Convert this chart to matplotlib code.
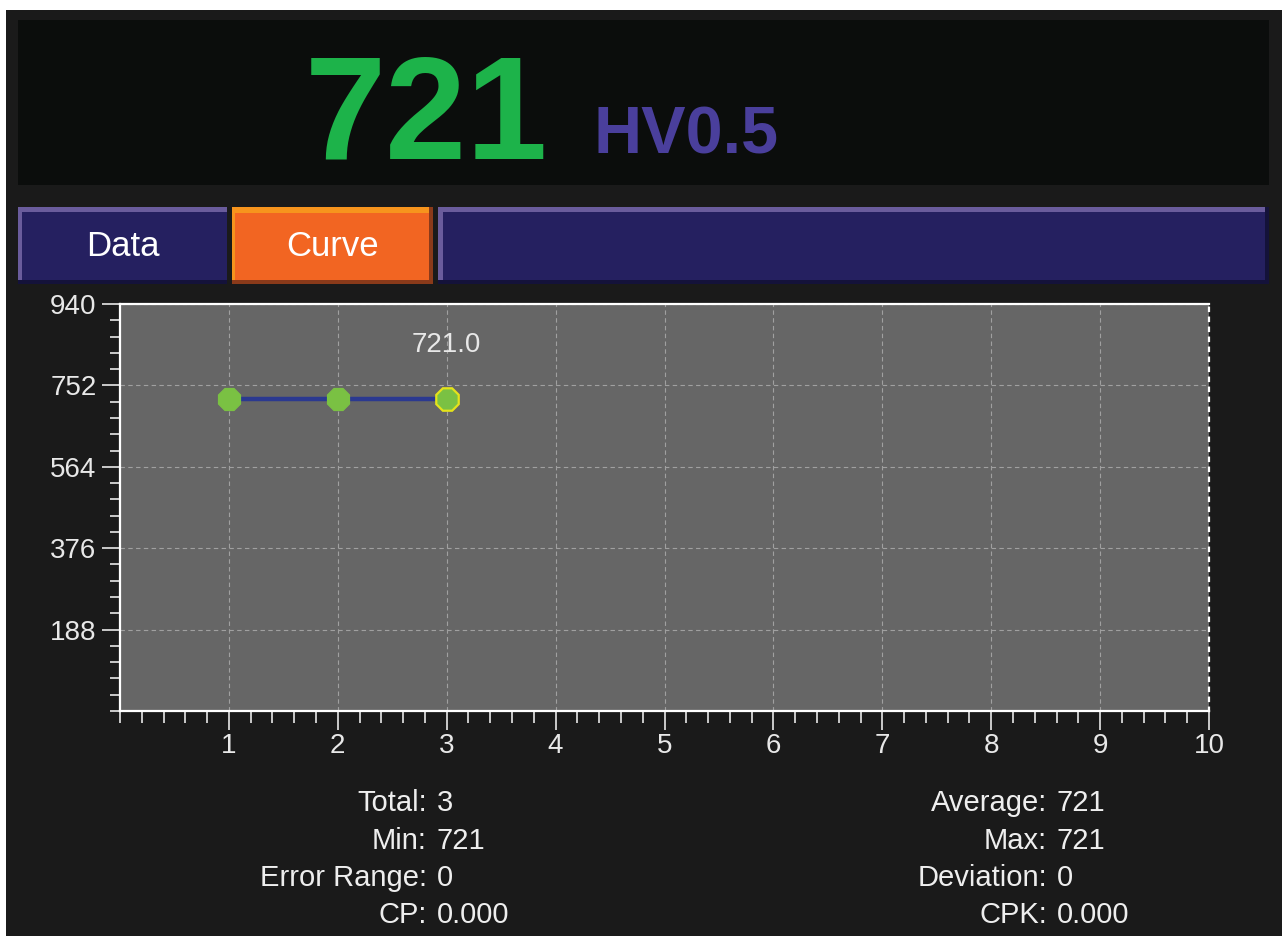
import matplotlib
matplotlib.use("Agg")
import matplotlib.pyplot as plt
from matplotlib.patches import Rectangle
from matplotlib import font_manager

# Messwerte (Härteprüfung)
reading = "721"
unit = "HV0.5"
tabs = ["Data", "Curve"]
x_vals = [1, 2, 3]
y_vals = [721, 721, 721]
last_label = "721.0"
y_ticks = [188, 376, 564, 752, 940]
x_ticks = [1, 2, 3, 4, 5, 6, 7, 8, 9, 10]
stats_left = [("Total:", "3"), ("Min:", "721"), ("Error Range:", "0"), ("CP:", "0.000")]
stats_right = [("Average:", "721"), ("Max:", "721"), ("Deviation:", "0"), ("CPK:", "0.000")]

W, H = 1282, 936
names = {f.name for f in font_manager.fontManager.ttflist}
narrow = "Liberation Sans Narrow" if "Liberation Sans Narrow" in names else "Liberation Sans"
plt.rcParams["font.family"] = ["Liberation Sans", "DejaVu Sans"]

fig = plt.figure(figsize=(W / 100, H / 100), dpi=100, facecolor="white")


def box(x0, y0, x1, y1, color):
    # Pixelkoordinaten, Ursprung oben links
    fig.add_artist(Rectangle((x0 / W, 1 - y1 / H), (x1 - x0) / W, (y1 - y0) / H,
                             transform=fig.transFigure, facecolor=color,
                             edgecolor="none", zorder=0))


def put(x, y, s, **kw):
    fig.text(x / W, 1 - y / H, s, **kw)


# Rahmen und Anzeige oben
box(6, 10, W, H, "#1a1a1a")
box(18, 20, 1269, 185, "#0b0d0c")
put(305, 158, reading, fontsize=110 if narrow != "Liberation Sans" else 105,
    family=narrow, weight="bold", color="#1db34a", va="baseline")
put(593, 153, unit, fontsize=48, weight="bold", color="#4a3f9c", va="baseline")

# Reiter
box(18, 207, 227, 284, "#14123a")
box(18, 207, 227, 280, "#252060")
box(18, 207, 227, 212, "#6a5c9c")
box(18, 207, 22, 280, "#6a5c9c")
box(232, 207, 433, 284, "#8a3a1a")
box(232, 207, 429, 280, "#f26522")
box(232, 207, 429, 213, "#f7941d")
box(232, 207, 235, 280, "#f7941d")
box(438, 207, 1269, 284, "#14123a")
box(438, 207, 1265, 280, "#252060")
box(438, 207, 1265, 212, "#6a5c9c")
box(438, 207, 443, 280, "#6a5c9c")
put(123, 256, tabs[0], fontsize=25, color="white", ha="center", va="baseline")
put(333, 256, tabs[1], fontsize=25, color="white", ha="center", va="baseline")

# Diagramm
ax = fig.add_axes([120 / W, 1 - 711 / H, (1209 - 120) / W, (711 - 304) / H])
ax.set_facecolor("#666666")
ax.set_xlim(0, 10)
ax.set_ylim(0, 940)

ax.set_xticks(x_ticks)
ax.set_xticks([i * 0.2 for i in range(51)], minor=True)
ax.set_yticks(y_ticks)
ax.set_yticks([i * 37.6 for i in range(26)], minor=True)
ax.grid(True, which="major", color="#a0a0a0", linestyle=(0, (4, 3)), linewidth=0.8)
ax.set_axisbelow(True)

ax.tick_params(axis="both", which="both", colors="#e8e8e8", width=1.2, labelsize=20)
ax.tick_params(axis="y", which="major", length=13, pad=4)
ax.tick_params(axis="y", which="minor", length=7)
ax.tick_params(axis="x", which="major", length=14, pad=2)
ax.tick_params(axis="x", which="minor", length=8.5)

for side in ["left", "top", "bottom"]:
    ax.spines[side].set_color("white")
    ax.spines[side].set_linewidth(1.6)
ax.spines["right"].set_color("white")
ax.spines["right"].set_linewidth(1.6)
ax.spines["right"].set_linestyle((0, (1.5, 3)))

octagon = (8, 0, 22.5)
ax.plot(x_vals, y_vals, color="#2b3990", linewidth=3.2, zorder=3)
ax.plot(x_vals[:-1], y_vals[:-1], linestyle="none", marker=octagon, markersize=17,
        markerfacecolor="#7ac143", markeredgecolor="#7ac143", zorder=4)
ax.plot(x_vals[-1:], y_vals[-1:], linestyle="none", marker=octagon, markersize=17.5,
        markerfacecolor="#7ac143", markeredgecolor="#e5e31a", markeredgewidth=1.6, zorder=4)
ax.annotate(last_label, (x_vals[-1], y_vals[-1]), xytext=(0, 39), textcoords="offset points",
            ha="center", va="center", fontsize=20, color="#e8e8e8")

# Kennwerte unten
rows = [811, 849, 886, 923]
for (lab, val), y in zip(stats_left, rows):
    put(427, y, lab, fontsize=21, color="#eeeeee", ha="right", va="baseline")
    put(437, y, val, fontsize=21, color="#eeeeee", ha="left", va="baseline")
for (lab, val), y in zip(stats_right, rows):
    put(1047, y, lab, fontsize=21, color="#eeeeee", ha="right", va="baseline")
    put(1057, y, val, fontsize=21, color="#eeeeee", ha="left", va="baseline")

fig.savefig("out.png", dpi=100, facecolor=fig.get_facecolor())
